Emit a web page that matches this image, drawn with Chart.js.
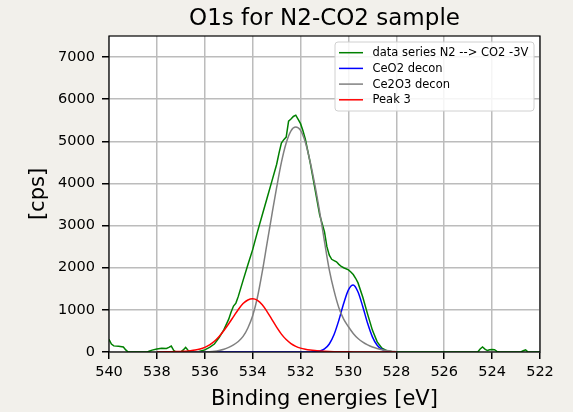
<!DOCTYPE html>
<html>
<head>
<meta charset="utf-8">
<title>O1s for N2-CO2 sample</title>
<script src="https://cdn.jsdelivr.net/npm/chart.js@4"></script>
<style>
  html, body { margin: 0; padding: 0; background: #f2f0eb; }
  canvas { display: block; }
</style>
</head>
<body>
<canvas id="chart" width="573" height="412"></canvas>
<script>
// Measured spectrum (binding energy in eV, counts per second)
const dataEnergy = [
  540.0, 539.9, 539.8, 539.6, 539.4, 539.3, 539.2, 538.4, 538.3, 538.2,
  538.0, 537.8, 537.6, 537.5, 537.4, 537.3, 537.2, 537.0, 536.9, 536.8,
  536.7, 536.6, 536.3, 536.2, 536.0, 535.8, 535.6, 535.4, 535.2, 535.0,
  534.9, 534.8, 534.7, 534.6, 534.4, 534.2, 534.0, 533.8, 533.6, 533.4,
  533.2, 533.0, 532.9, 532.8, 532.7, 532.6, 532.5, 532.4, 532.3, 532.2,
  532.1, 532.0, 531.9, 531.8, 531.6, 531.4, 531.2, 531.0, 530.9, 530.8,
  530.7, 530.6, 530.5, 530.4, 530.3, 530.2, 530.0, 529.9, 529.8, 529.7,
  529.6, 529.4, 529.2, 529.0, 528.8, 528.6, 528.4, 528.2, 528.0, 524.6,
  524.5, 524.4, 524.3, 524.2, 524.1, 524.0, 523.9, 523.8, 523.7, 522.8,
  522.7, 522.6, 522.5, 522.0
];
const dataCounts = [
  300, 190, 145, 135, 120, 50, 0, 0, 25, 45,
  70, 90, 85, 110, 140, 40, 0, 0, 50, 110,
  40, 0, 0, 20, 50, 110, 190, 340, 530, 780,
  950, 1090, 1160, 1320, 1700, 2070, 2430, 2850, 3250, 3650,
  4050, 4450, 4720, 4960, 5040, 5100, 5480, 5530, 5590, 5620,
  5520, 5420, 5250, 5050, 4500, 3880, 3250, 2850, 2500, 2300,
  2200, 2170, 2140, 2080, 2030, 2000, 1950, 1900, 1840, 1750,
  1640, 1300, 900, 520, 240, 90, 30, 10, 0, 0,
  70, 120, 70, 35, 55, 60, 55, 15, 0, 0,
  30, 50, 0, 0
];

// Energy grid of the fitted components (538.0 down to 528.0 eV)
const fitEnergy = [
  538.0, 537.8, 537.6, 537.4, 537.2, 537.0, 536.8, 536.6, 536.4, 536.2,
  536.0, 535.8, 535.6, 535.4, 535.2, 535.0, 534.8, 534.6, 534.4, 534.2,
  534.0, 533.8, 533.6, 533.4, 533.2, 533.0, 532.8, 532.6, 532.4, 532.2,
  532.0, 531.8, 531.6, 531.4, 531.2, 531.0, 530.8, 530.6, 530.4, 530.2,
  530.0, 529.8, 529.6, 529.4, 529.2, 529.0, 528.8, 528.6, 528.4, 528.2,
  528.0
];
const ceo2Counts = [
  0, 0, 0, 0, 0, 0, 0, 0, 0, 0,
  0, 0, 0, 0, 0, 0, 0, 0, 0, 0,
  0, 0, 0, 0, 0, 0, 0, 0, 0, 0,
  0, 0, 2, 6, 23, 72, 190, 415, 755, 1150,
  1475, 1590, 1425, 1075, 680, 360, 160, 60, 18, 5,
  0
];
const ce2o3Counts = [
  0, 0, 0, 0, 0, 0, 0, 0, 0, 0,
  2, 5, 15, 35, 65, 110, 170, 250, 370, 570,
  860, 1300, 1900, 2580, 3250, 3900, 4500, 4960, 5250, 5340,
  5260, 4980, 4520, 3960, 3320, 2620, 1950, 1450, 1050, 780,
  600, 440, 320, 235, 170, 120, 85, 55, 33, 18,
  8
];
const peak3Counts = [
  0, 2, 4, 6, 9, 14, 20, 30, 45, 70,
  110, 170, 255, 370, 510, 670, 840, 1010, 1150, 1235,
  1262, 1225, 1120, 960, 775, 590, 425, 295, 200, 135,
  92, 65, 46, 33, 24, 17, 12, 8, 6, 4,
  3, 2, 1, 1, 0, 0, 0, 0, 0, 0,
  0
];

// Axis ticks
const energyTicks = [540, 538, 536, 534, 532, 530, 528, 526, 524, 522];
const countTicks = [0, 1000, 2000, 3000, 4000, 5000, 6000, 7000];

const seriesLabels = ['data series N2 --> CO2 -3V', 'CeO2 decon', 'Ce2O3 decon', 'Peak 3'];
const seriesColors = ['#008000', '#0000ff', '#808080', '#ff0000'];

const FONT = '"DejaVu Sans", "Liberation Sans", sans-serif';

const toPoints = (xs, ys) => xs.map((x, i) => ({ x, y: ys[i] }));

// White plot area and black frame, like a matplotlib axes box
const axesBox = {
  id: 'axesBox',
  beforeDraw(chart) {
    const { ctx, chartArea: a } = chart;
    ctx.save();
    ctx.fillStyle = '#ffffff';
    ctx.fillRect(a.left, a.top, a.right - a.left, a.bottom - a.top);
    ctx.restore();
  },
  afterDraw(chart) {
    const { ctx, chartArea: a } = chart;
    ctx.save();
    ctx.strokeStyle = '#000000';
    ctx.lineWidth = 1.2;
    ctx.strokeRect(a.left, a.top, a.right - a.left, a.bottom - a.top);

    // title
    ctx.fillStyle = '#000000';
    ctx.font = '23px ' + FONT;
    ctx.textAlign = 'center';
    ctx.textBaseline = 'alphabetic';
    ctx.fillText('O1s for N2-CO2 sample', (a.left + a.right) / 2, 25);
    ctx.restore();
  }
};

// Legend box drawn inside the upper right corner of the plot
const innerLegend = {
  id: 'innerLegend',
  afterDatasetsDraw(chart) {
    const { ctx } = chart;
    const x = 335, y = 42, w = 199, h = 69, r = 3;
    ctx.save();
    ctx.beginPath();
    ctx.roundRect(x, y, w, h, r);
    ctx.fillStyle = 'rgba(255,255,255,0.85)';
    ctx.fill();
    ctx.strokeStyle = '#d0d0d0';
    ctx.lineWidth = 1;
    ctx.stroke();

    ctx.font = '11.5px ' + FONT;
    ctx.textBaseline = 'middle';
    ctx.textAlign = 'left';
    seriesLabels.forEach((label, i) => {
      const cy = 52.7 + i * 15.7;
      ctx.strokeStyle = seriesColors[i];
      ctx.lineWidth = 1.5;
      ctx.beginPath();
      ctx.moveTo(339, cy);
      ctx.lineTo(363, cy);
      ctx.stroke();
      ctx.fillStyle = '#000000';
      ctx.fillText(label, 372.5, cy + 0.5);
    });
    ctx.restore();
  }
};

const lineStyle = (i) => ({
  label: seriesLabels[i],
  borderColor: seriesColors[i],
  backgroundColor: seriesColors[i],
  borderWidth: 1.5,
  pointRadius: 0,
  fill: false,
  tension: 0
});

// fitted components are smooth curves
const fitStyle = (i) => ({ ...lineStyle(i), cubicInterpolationMode: 'monotone' });

const gridStyle = { color: '#bcbcbc', lineWidth: 1.5, tickColor: '#000000', tickLength: 7 };

new Chart(document.getElementById('chart'), {
  type: 'line',
  data: {
    datasets: [
      { ...lineStyle(0), data: toPoints(dataEnergy, dataCounts), order: 4 },
      { ...fitStyle(1), data: toPoints(fitEnergy, ceo2Counts), order: 3 },
      { ...fitStyle(2), data: toPoints(fitEnergy, ce2o3Counts), order: 2 },
      { ...fitStyle(3), data: toPoints(fitEnergy, peak3Counts), order: 1 }
    ]
  },
  options: {
    responsive: false,
    animation: false,
    layout: { padding: { top: 36, right: 33, left: 0, bottom: 0 } },
    plugins: {
      legend: { display: false },
      tooltip: { enabled: false },
      title: { display: false }
    },
    scales: {
      x: {
        type: 'linear',
        min: 522,
        max: 540,
        reverse: true,
        afterFit: (scale) => { scale.height = 60; },
        afterBuildTicks: (scale) => {
          scale.ticks = energyTicks.map(v => ({ value: v }));
        },
        border: { display: false },
        grid: gridStyle,
        ticks: {
          padding: 5,
          color: '#000000',
          font: { family: FONT, size: 14.5 },
          maxRotation: 0,
          autoSkip: false,
          callback: (v) => String(v)
        },
        title: {
          display: true,
          text: 'Binding energies [eV]',
          color: '#000000',
          font: { family: FONT, size: 21 },
          padding: { top: 0, bottom: 0 }
        }
      },
      y: {
        type: 'linear',
        min: 0,
        max: 7500,
        afterFit: (scale) => { scale.width = 109; },
        afterBuildTicks: (scale) => {
          scale.ticks = countTicks.map(v => ({ value: v }));
        },
        border: { display: false },
        grid: gridStyle,
        ticks: {
          padding: 7,
          color: '#000000',
          font: { family: FONT, size: 14.5 },
          autoSkip: false,
          callback: (v) => String(v)
        },
        title: {
          display: true,
          text: '[cps]',
          color: '#000000',
          font: { family: FONT, size: 21 },
          padding: { top: 26, bottom: 0 }
        }
      }
    }
  },
  plugins: [axesBox, innerLegend]
});
</script>
</body>
</html>
